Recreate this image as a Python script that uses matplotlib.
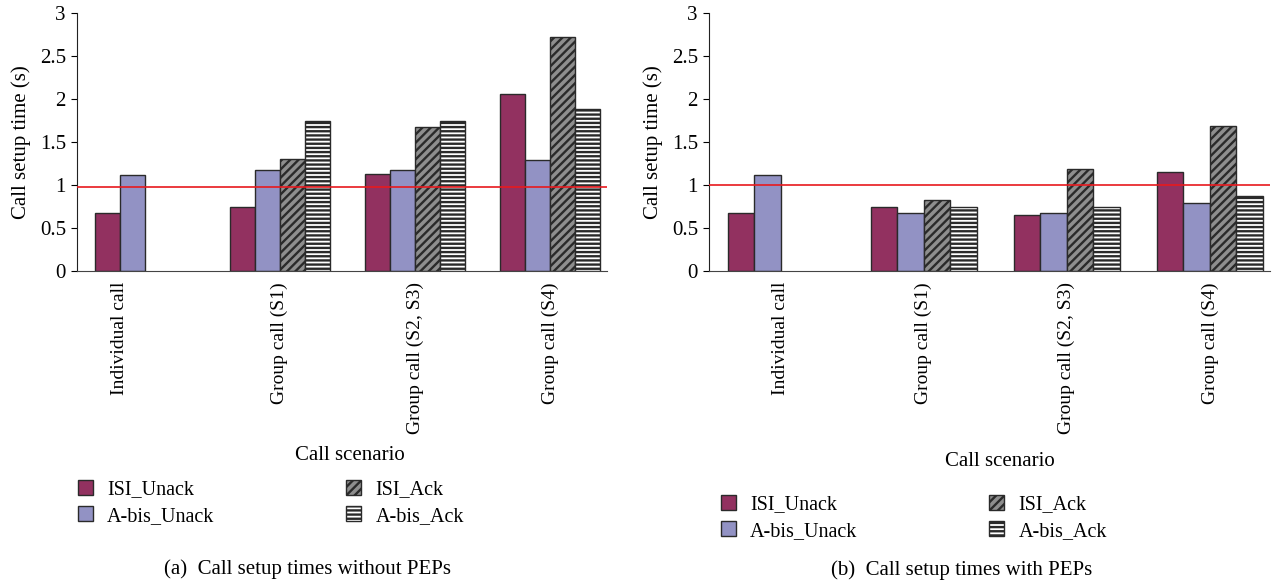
import matplotlib
matplotlib.use("Agg")
import matplotlib as mpl
import matplotlib.pyplot as plt
import numpy as np

# -----------------------------
# Daten
# -----------------------------
categories = ["Individual call", "Group call (S1)", "Group call (S2, S3)", "Group call (S4)"]
series = ["ISI_Unack", "A-bis_Unack", "ISI_Ack", "A-bis_Ack"]

# (a) ohne PEPs
isi_unack_a = [0.67, 0.74, 1.13, 2.06]
abis_unack_a = [1.12, 1.17, 1.17, 1.29]
isi_ack_a = [np.nan, 1.30, 1.67, 2.72]
abis_ack_a = [np.nan, 1.75, 1.75, 1.88]
threshold_a = 0.98

# (b) mit PEPs
isi_unack_b = [0.67, 0.74, 0.65, 1.15]
abis_unack_b = [1.12, 0.67, 0.67, 0.79]
isi_ack_b = [np.nan, 0.83, 1.19, 1.69]
abis_ack_b = [np.nan, 0.75, 0.75, 0.87]
threshold_b = 1.0

captions = ["(a)  Call setup times without PEPs", "(b)  Call setup times with PEPs"]

# -----------------------------
# Stil
# -----------------------------
plt.rcParams["font.family"] = ["Liberation Serif", "DejaVu Serif"]
plt.rcParams["font.size"] = 15
plt.rcParams["hatch.linewidth"] = 1.7
plt.rcParams["hatch.color"] = "#111111"

colors = ["#923160", "#9292c4", "#8e8e8e", "white"]
hatches = [None, None, "////", "----"]
edge = "#2a2a2a"

W, H = 1275, 586
fig = plt.figure(figsize=(W / 100, H / 100), dpi=100)


def px_axes(x0, x1, y0, y1):
    return fig.add_axes([x0 / W, 1 - y1 / H, (x1 - x0) / W, (y1 - y0) / H])


def draw_panel(ax, data, thr, tick_on_bars):
    x = np.arange(len(categories))
    w = 0.185
    offsets = (np.arange(4) - 1.5) * w
    handles = []
    for i, vals in enumerate(data):
        b = ax.bar(x + offsets[i], vals, w, color=colors[i], edgecolor=edge,
                   linewidth=1.0, hatch=hatches[i], label=series[i], zorder=2)
        handles.append(b)
    # Tick-Positionen
    ticks = []
    for j in range(len(categories)):
        present = [offsets[i] for i in range(4) if not np.isnan(data[i][j])]
        ticks.append(x[j] + (np.mean(present) if tick_on_bars else 0.0))
    ax.axhline(thr, color="#e8191e", lw=1.2, zorder=3)
    ax.set_xlim(-0.5, 3.42)
    ax.set_ylim(0, 3)
    ax.set_yticks([0, 0.5, 1, 1.5, 2, 2.5, 3])
    ax.set_yticklabels(["0", "0.5", "1", "1.5", "2", "2.5", "3"])
    ax.set_xticks(ticks)
    ax.set_xticklabels(categories, rotation=90, fontsize=14)
    ax.tick_params(axis="x", length=0, pad=8)
    ax.tick_params(axis="y", length=4, direction="out", pad=4)
    for s in ["top", "right"]:
        ax.spines[s].set_visible(False)
    ax.spines["left"].set_color("#222222")
    ax.spines["bottom"].set_color("#444444")
    ax.set_ylabel("Call setup time (s)", labelpad=6)
    return handles


ax1 = px_axes(77, 607, 13, 271)
h1 = draw_panel(ax1, [isi_unack_a, abis_unack_a, isi_ack_a, abis_ack_a], threshold_a, True)
ax2 = px_axes(709, 1270, 13, 271)
h2 = draw_panel(ax2, [isi_unack_b, abis_unack_b, isi_ack_b, abis_ack_b], threshold_b, False)

fig.text(350 / W, 1 - 455 / H, "Call scenario", ha="center", va="center")
fig.text(1000 / W, 1 - 462 / H, "Call scenario", ha="center", va="center")

leg_kw = dict(ncol=2, frameon=False, handlelength=0.75, handleheight=0.75,
              handletextpad=0.7, labelspacing=0.35, borderaxespad=0, borderpad=0,
              loc="upper left", fontsize=14.5, columnspacing=6.55)
fig.legend(h1, series, bbox_to_anchor=(78 / W, 1 - 480 / H), **leg_kw)
fig.legend(h2, series, bbox_to_anchor=(721 / W, 1 - 495 / H), **leg_kw)

fig.text(308 / W, 1 - 569 / H, captions[0], ha="center", va="center", fontsize=15)
fig.text(962 / W, 1 - 570 / H, captions[1], ha="center", va="center", fontsize=15)

fig.savefig("out.png", dpi=100)
